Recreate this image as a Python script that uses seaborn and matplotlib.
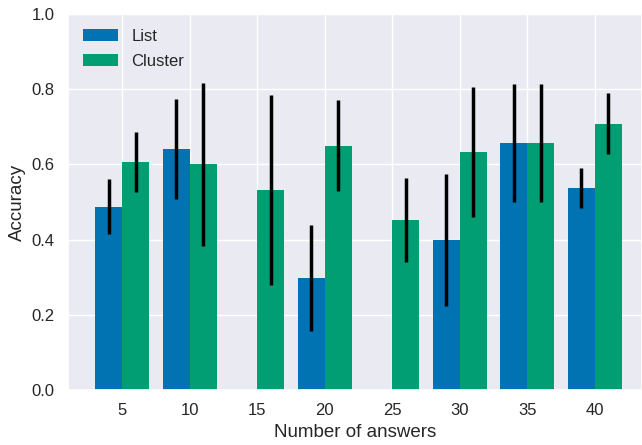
import numpy as np
import matplotlib
matplotlib.use('Agg')
import matplotlib.pyplot as plt
import seaborn as sns

# Values
answers      = [5, 10, 15, 20, 25, 30, 35, 40]
list_acc     = [0.488, 0.640, np.nan, 0.298, np.nan, 0.399, 0.657, 0.537]
list_err     = [0.072, 0.133, np.nan, 0.142, np.nan, 0.175, 0.157, 0.054]
cluster_acc  = [0.606, 0.600, 0.532, 0.650, 0.452, 0.633, 0.657, 0.708]
cluster_err  = [0.079, 0.216, 0.253, 0.121, 0.112, 0.173, 0.157, 0.081]

sns.set_theme(style='darkgrid', palette='colorblind')
plt.rcParams['font.family'] = ['Liberation Sans', 'DejaVu Sans']

colors = sns.color_palette('colorblind')

fig, ax = plt.subplots(figsize=(6.42, 4.45), dpi=100)
fig.subplots_adjust(left=68 / 642, right=1.0, top=1 - 14 / 445, bottom=1 - 390 / 445)

x = np.array(answers, dtype=float)
la = np.array(list_acc)
ok = ~np.isnan(la)

# List bars sit left of the tick, Cluster bars right of it
ax.bar(x[ok] - 1, la[ok], width=2, color=colors[0], label='List', linewidth=0)
ax.errorbar(x[ok] - 1, la[ok], yerr=np.array(list_err)[ok], fmt='none',
            ecolor='black', elinewidth=2.5, capsize=0)
ax.bar(x + 1, cluster_acc, width=2, color=colors[2], label='Cluster', linewidth=0)
ax.errorbar(x + 1, cluster_acc, yerr=cluster_err, fmt='none',
            ecolor='black', elinewidth=2.5, capsize=0)

ax.set_xlim(1, 43.5)
ax.set_ylim(0, 1.0)
ax.set_xticks(answers)
ax.set_xlabel('Number of answers', fontsize=13.5)
ax.set_ylabel('Accuracy', fontsize=13.5)
ax.tick_params(labelsize=12)

ax.legend(loc='upper left', frameon=False, fontsize=12, handlelength=2.1,
          handleheight=0.75, labelspacing=0.6)

fig.savefig('out.png', dpi=100)
